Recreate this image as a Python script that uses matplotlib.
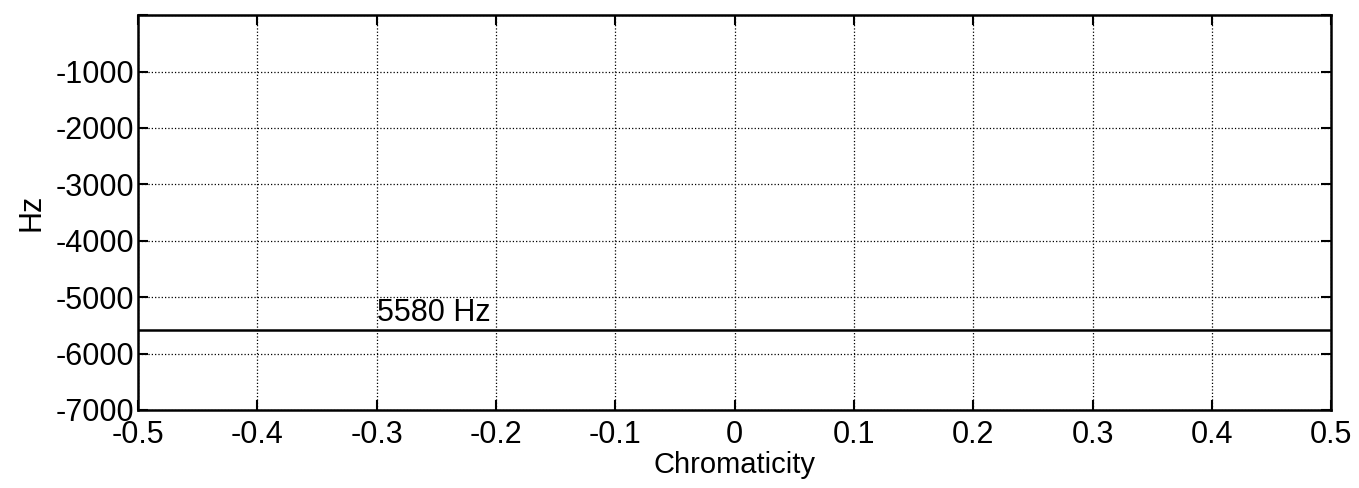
import numpy as np
import matplotlib
matplotlib.use("Agg")
from matplotlib import pyplot as plt

plt.rcParams["font.family"] = ["Liberation Sans", "DejaVu Sans"]

# data
chromaticity = [-0.5, 0.5]
freq_hz = [-5580, -5580]
label_text = "5580 Hz"
label_x = -0.3
xticks = np.round(np.arange(-0.5, 0.51, 0.1), 1)
xtick_labels = ["-0.5", "-0.4", "-0.3", "-0.2", "-0.1", "0", "0.1", "0.2", "0.3", "0.4", "0.5"]
yticks = [-7000, -6000, -5000, -4000, -3000, -2000, -1000, 0]
ytick_labels = ["-7000", "-6000", "-5000", "-4000", "-3000", "-2000", "-1000", ""]

fig = plt.figure(figsize=(13.59, 4.88), dpi=100)
ax = fig.add_axes([0.1015, 0.160, 0.878, 0.809])

ax.plot(chromaticity, freq_hz, color="black", linewidth=1.8)
ax.text(label_x, freq_hz[0] + 30, label_text, fontsize=22, ha="left", va="bottom")

ax.set_xlim(-0.5, 0.5)
ax.set_ylim(-7000, 0)
ax.set_xticks(xticks)
ax.set_xticklabels(xtick_labels)
ax.set_yticks(yticks)
ax.set_yticklabels(ytick_labels)
ax.tick_params(direction="in", length=7, width=1.5, labelsize=22, top=True, right=True, pad=3)
ax.tick_params(axis="x", pad=7)
ax.grid(True, color="black", linestyle=":", linewidth=0.9)
for spine in ax.spines.values():
    spine.set_linewidth(1.8)

ax.set_xlabel("Chromaticity", fontsize=21, labelpad=1)
ax.set_ylabel("Hz", fontsize=22, labelpad=6)

fig.savefig("out.png", dpi=100)
